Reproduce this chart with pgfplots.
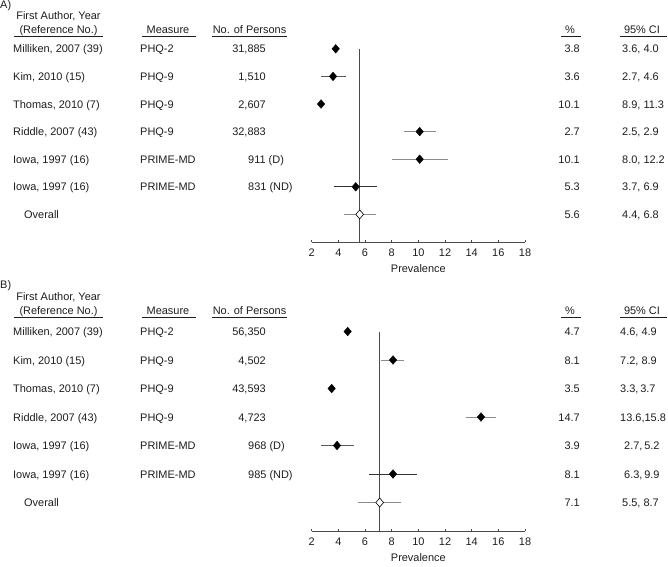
\documentclass[border=0pt]{standalone}
\usepackage{pgfplots}
\pgfplotsset{compat=1.18}
\usepackage{fontspec}
\setmainfont{Liberation Sans}

\definecolor{txt}{HTML}{1E1E1E}
\definecolor{axl}{HTML}{4A4A4A}
\definecolor{ciA}{HTML}{5A5A5A}
\definecolor{ciB}{HTML}{8C8C8C}
\definecolor{ciC}{HTML}{333333}

\pgfplotsset{
  forest/.style={
    scale only axis, width=213.3bp,
    xmin=2, xmax=18, ymin=-8, ymax=-0.5,
    hide y axis, axis x line*=bottom,
    xtick={2,4,...,18}, tick align=inside, major tick length=2.5bp,
    axis line style={axl, line width=0.7pt}, tick style={axl, line width=0.6pt},
    /pgf/number format/assume math mode=true,
    xticklabel style={font=\fontsize{11}{13}\selectfont, text=txt, inner sep=0pt,
      text height=7.9bp, text depth=0pt, yshift=-6.5bp},
    xlabel={Prevalence},
    xlabel style={font=\fontsize{11}{13}\selectfont, text=txt, inner sep=0pt,
      text height=7.9bp, text depth=0pt,
      at={(axis description cs:0.5,0)}, anchor=center, yshift=-26.5bp},
    clip=false,
  },
  ci/.style={line width=0.9pt},
  est/.style={only marks, mark=diamond*, mark size=4.3bp, mark options={xscale=1.15, fill=black, draw=black}},
  pool/.style={only marks, mark=diamond*, mark size=4.5bp, mark options={xscale=1.15, fill=white, draw=black, line width=0.6pt}},
  refl/.style={axl, line width=0.8pt},
}

\begin{document}
\begin{tikzpicture}[font=\fontsize{11}{13}\selectfont]
\useasboundingbox (0,0) rectangle (668bp,-567bp);

% ---------- panel A ----------
\begin{axis}[forest, height=207bp, at={(311.7bp,-242bp)}, anchor=south west]
  \addplot[refl] coordinates {(5.6,-1) (5.6,-8)};
  \addplot[ci, ciA] coordinates {(2.7,-2) (4.6,-2)};
  \addplot[ci, ciB] coordinates {(8.9,-4) (11.3,-4)};
  \addplot[ci, ciB] coordinates {(8.0,-5) (12.2,-5)};
  \addplot[ci, ciC] coordinates {(3.7,-6) (6.9,-6)};
  \addplot[ci, ciB] coordinates {(4.4,-7) (6.8,-7)};
  \addplot[est] coordinates {(3.8,-1) (3.6,-2) (2.7,-3) (10.1,-4) (10.1,-5) (5.3,-6)};
  \addplot[pool] coordinates {(5.6,-7)};
\end{axis}

% ---------- panel B ----------
\begin{axis}[forest, height=213.75bp, at={(311.7bp,-531bp)}, anchor=south west]
  \addplot[refl] coordinates {(7.1,-1) (7.1,-8)};
  \addplot[ci, ciB] coordinates {(7.2,-2) (8.9,-2)};
  \addplot[ci, ciB] coordinates {(13.6,-4) (15.8,-4)};
  \addplot[ci, ciA] coordinates {(2.7,-5) (5.2,-5)};
  \addplot[ci, ciC] coordinates {(6.3,-6) (9.9,-6)};
  \addplot[ci, ciB] coordinates {(5.5,-7) (8.7,-7)};
  \addplot[est] coordinates {(4.7,-1) (8.1,-2) (3.5,-3) (14.7,-4) (3.9,-5) (8.1,-6)};
  \addplot[pool] coordinates {(7.1,-7)};
\end{axis}

% ---------- table text ----------
\begin{scope}[x=1bp, y=-1bp, every node/.style={inner sep=0pt, text=txt, text height=7.9bp, text depth=0pt}]
  % panel A
  \node[anchor=west] at (0,5) {A)};
  \node at (58.5,16) {First Author, Year};
  \node at (58.5,30) {(Reference No.)};
  \node at (168,30) {Measure};
  \node at (249.5,30) {No. of Persons};
  \node at (570,30) {\%};
  \node at (642,30) {95\% CI};
  \draw[txt, line width=0.6pt] (14,36)--(103,36) (142,36)--(196,36) (212,36)--(287,36) (561,36)--(581,36) (620,36)--(667,36);
  \foreach \y/\a/\m/\n/\p/\c in {
    49/{Milliken, 2007 (39)}/PHQ-2/{31,885}/3.8/{3.6, 4.0},
    76.6/{Kim, 2010 (15)}/PHQ-9/{1,510}/3.6/{2.7, 4.6},
    104.2/{Thomas, 2010 (7)}/PHQ-9/{2,607}/10.1/{8.9, 11.3},
    131.8/{Riddle, 2007 (43)}/PHQ-9/{32,883}/2.7/{2.5, 2.9}} {
    \node[anchor=west] at (13,\y) {\a};
    \node[anchor=west] at (140,\y) {\m};
    \node[anchor=east] at (266,\y) {\n};
    \node[anchor=east] at (580,\y) {\p};
    \node[anchor=west] at (622,\y) {\c};
  }
  \node[anchor=west] at (13,159.4) {Iowa, 1997 (16)};
  \node[anchor=west] at (140,159.4) {PRIME-MD};
  \node[anchor=west] at (248,159.4) {911 (D)};
  \node[anchor=east] at (580,159.4) {10.1};
  \node[anchor=west] at (622,159.4) {8.0, 12.2};
  \node[anchor=west] at (13,187) {Iowa, 1997 (16)};
  \node[anchor=west] at (140,187) {PRIME-MD};
  \node[anchor=west] at (248,187) {831 (ND)};
  \node[anchor=east] at (580,187) {5.3};
  \node[anchor=west] at (622,187) {3.7, 6.9};
  \node[anchor=west] at (24,214.6) {Overall};
  \node[anchor=east] at (580,214.6) {5.6};
  \node[anchor=west] at (622,214.6) {4.4, 6.8};

  % panel B
  \node[anchor=west] at (0,285) {B)};
  \node at (58.5,297) {First Author, Year};
  \node at (58.5,311) {(Reference No.)};
  \node at (168,311) {Measure};
  \node at (249.5,311) {No. of Persons};
  \node at (570,311) {\%};
  \node at (642,311) {95\% CI};
  \draw[txt, line width=0.6pt] (14,317)--(103,317) (142,317)--(196,317) (212,317)--(287,317) (561,317)--(581,317) (620,317)--(667,317);
  \foreach \y/\a/\m/\n/\p/\c in {
    331.7/{Milliken, 2007 (39)}/PHQ-2/{56,350}/4.7/{4.6, 4.9},
    360.2/{Kim, 2010 (15)}/PHQ-9/{4,502}/8.1/{7.2, 8.9},
    388.7/{Thomas, 2010 (7)}/PHQ-9/{43,593}/3.5/{3.3,\,3.7},
    417.2/{Riddle, 2007 (43)}/PHQ-9/{4,723}/14.7/{13.6,15.8}} {
    \node[anchor=west] at (13,\y) {\a};
    \node[anchor=west] at (140,\y) {\m};
    \node[anchor=east] at (266,\y) {\n};
    \node[anchor=east] at (580,\y) {\p};
    \node[anchor=west] at (620,\y) {\c};
  }
  \node[anchor=west] at (13,445.7) {Iowa, 1997 (16)};
  \node[anchor=west] at (140,445.7) {PRIME-MD};
  \node[anchor=west] at (248,445.7) {968 (D)};
  \node[anchor=east] at (580,445.7) {3.9};
  \node[anchor=west] at (624,445.7) {2.7,\,5.2};
  \node[anchor=west] at (13,474.2) {Iowa, 1997 (16)};
  \node[anchor=west] at (140,474.2) {PRIME-MD};
  \node[anchor=west] at (248,474.2) {985 (ND)};
  \node[anchor=east] at (580,474.2) {8.1};
  \node[anchor=west] at (624,474.2) {6.3,\,9.9};
  \node[anchor=west] at (24,502.7) {Overall};
  \node[anchor=east] at (580,502.7) {7.1};
  \node[anchor=west] at (622,502.7) {5.5, 8.7};
\end{scope}
\end{tikzpicture}
\end{document}
